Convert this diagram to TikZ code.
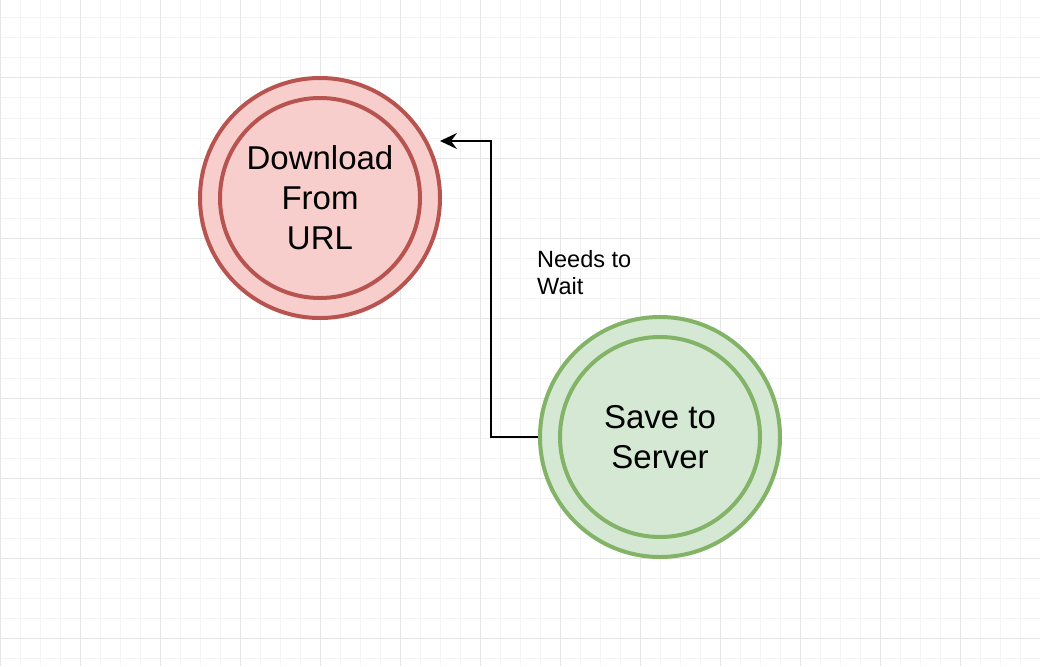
\documentclass[tikz,border=0pt]{standalone}
\usepackage{fontspec}
\setmainfont{Liberation Sans}
\usetikzlibrary{arrows.meta, calc}

\definecolor{dlfill}{HTML}{F8CECC}
\definecolor{dlline}{HTML}{B85450}
\definecolor{svfill}{HTML}{D5E8D4}
\definecolor{svline}{HTML}{82B366}
\definecolor{gridminor}{HTML}{F4F4F4}
\definecolor{gridmajor}{HTML}{E6E6E6}

\begin{document}
\begin{tikzpicture}[x=1pt, y=-1pt]
	\tikzstyle{minorgrid} = [line width=1pt, gridminor]
	\tikzstyle{majorgrid} = [line width=1pt, gridmajor]
	\tikzstyle{state} = [circle, minimum size=240pt, inner sep=0pt, 
	line width=4pt, align=center, font=\fontsize{33}{40}\selectfont]
	\tikzstyle{dlstate} = [state, draw=dlline, fill=dlfill, 
	path picture={\draw[line width=4pt, dlline] (path picture bounding box.center) circle (100pt);}]
	\tikzstyle{svstate} = [state, draw=svline, fill=svfill, 
	path picture={\draw[line width=4pt, svline] (path picture bounding box.center) circle (100pt);}]
	\tikzstyle{edgelabel} = [inner sep=0pt, align=left, font=\fontsize{23.5}{27}\selectfont]
	\tikzstyle{arrow} = [line width=2pt, -{Stealth[length=17pt, width=16pt, inset=6pt]}]
	\useasboundingbox (0,0) rectangle (1040,666);
	% grid
	\foreach \gx in {0,20,...,1040} \draw[minorgrid] (\gx,0) -- (\gx,666);
	\foreach \gy in {18,38,...,658} \draw[minorgrid] (0,\gy) -- (1040,\gy);
	\foreach \gx in {0,80,...,1040} \draw[majorgrid] (\gx,0) -- (\gx,666);
	\foreach \gy in {78,158,...,638} \draw[majorgrid] (0,\gy) -- (1040,\gy);
	% states
	\node (download) [dlstate] at (320,198) {Download\\From\\URL};
	\node (save) [svstate] at (660,437) {Save to\\Server};
	\coordinate (dlport) at ($(download.center)+(120,-57)$);
	\node (waitlabel) [edgelabel, anchor=base west] at (537,294) {Needs to\\Wait};
	\draw [arrow] (save.west) -- ++(-47,0) |- (dlport);
\end{tikzpicture}
\end{document}
